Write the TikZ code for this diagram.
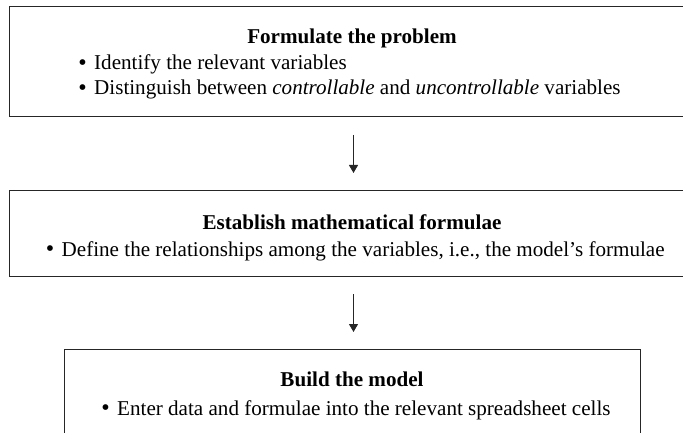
\documentclass[tikz,border=0pt]{standalone}
\usepackage{fontspec}
\setmainfont{Liberation Serif}
\usetikzlibrary{arrows.meta}
\begin{document}
\begin{tikzpicture}[x=1pt,y=-1pt,
  box/.style={draw=black!85, line width=1.2pt, rectangle, inner sep=0pt},
  title/.style={font=\fontsize{21.1}{25}\selectfont\bfseries, anchor=base, inner sep=0pt},
  item/.style={font=\fontsize{21.1}{25}\selectfont, anchor=base west, inner sep=0pt},
  arr/.style={line width=1pt, draw=black!85, -{Triangle[length=8pt,width=9pt]}}]
\useasboundingbox (0,0) rectangle (683,433);
\clip (0,0) rectangle (683,433);
\node[box, minimum width=686.4pt, minimum height=110pt] (b1) at (352.5,61.7) {};
\node[box, minimum width=686.4pt, minimum height=86pt] (b2) at (352.5,233.7) {};
\node[box, minimum width=576.4pt, minimum height=110pt] (b3) at (352.5,404.3) {};
\newcommand{\bul}{\llap{\smash{\raisebox{-0.5pt}{\fontsize{24}{25}\selectfont\textbullet}}\hspace{7.4pt}}}
\node[title] (t1) at (352,43.5) {Formulate the problem};
\node[item] (i11) at (94,70) {\bul Identify the relevant variables};
\node[item] (i12) at (94,95) {\bul Distinguish between \textit{controllable} and \textit{uncontrollable} variables};
\node[title] (t2) at (352,229.5) {Establish mathematical formulae};
\node[item] (i21) at (61.5,256) {\bul Define the relationships among the variables, i.e., the model's formulae};
\node[title] (t3) at (352,386.5) {Build the model};
\node[item] (i31) at (117,415) {\bul Enter data and formulae into the relevant spreadsheet cells};
\coordinate (a1s) at (353.5,135);
\coordinate (a1e) at (353.5,173);
\coordinate (a2s) at (353.5,294);
\coordinate (a2e) at (353.5,332);
\draw[arr] (a1s) -- (a1e);
\draw[arr] (a2s) -- (a2e);
\end{tikzpicture}
\end{document}
